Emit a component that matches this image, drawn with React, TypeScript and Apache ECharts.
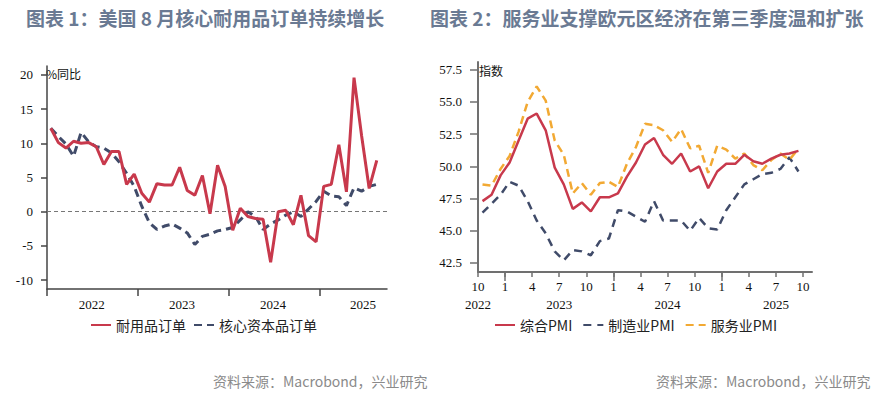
import React, { useEffect, useRef } from "react";
import * as echarts from "echarts";

// ---------- Chart 1: US durable goods orders (YoY %), Jan 2022 – Aug 2025 ----------
const durableOrders = [
  12.2, 10.1, 9.3, 10.3, 10.0, 10.1, 9.5, 6.9, 8.8, 8.8, 4.0, 5.5,
  2.7, 1.4, 4.1, 3.9, 3.9, 6.5, 3.1, 2.4, 5.3, -0.3, 6.8, 3.7,
  -2.7, 0.5, -0.7, -1.0, -1.1, -7.4, 0.0, 0.2, -1.9, 2.4, -3.5, -4.4,
  3.7, 4.0, 9.8, 2.9, 19.6, 11.1, 3.4, 7.5,
];
const coreCapitalOrders = [
  12.2, 11.0, 9.9, 8.1, 11.6, 10.2, 9.5, 9.3, 8.6, 7.3, 5.6, 3.7,
  0.8, -1.6, -2.6, -2.1, -1.8, -2.4, -3.1, -4.8, -3.6, -3.3, -2.8, -2.6,
  -2.3, -1.2, 0.0, -0.7, -2.6, -1.8, -1.2, -0.5, 0.0, -0.7, 0.4, 1.5,
  3.0, 2.3, 2.2, 0.9, 3.5, 3.0, 3.7, 4.0,
];
const chart1Legend = ["耐用品订单", "核心资本品订单"];
const chart1YTicks = [-10, -5, 0, 5, 10, 15, 20];
const chart1YearLabels = ["2022", "2023", "2024", "2025"];

// ---------- Chart 2: Eurozone PMI, Oct 2022 – Sep 2025 ----------
const compositePMI = [
  47.3, 47.8, 49.3, 50.3, 52.0, 53.7, 54.1, 52.8, 49.9, 48.6, 46.7, 47.2,
  46.5, 47.6, 47.6, 47.9, 49.2, 50.3, 51.7, 52.2, 50.9, 50.2, 51.0, 49.6,
  50.0, 48.3, 49.6, 50.2, 50.2, 50.9, 50.4, 50.2, 50.6, 50.9, 51.0, 51.2,
];
const manufacturingPMI = [
  46.4, 47.1, 47.8, 48.8, 48.5, 47.3, 45.8, 44.8, 43.4, 42.7, 43.5, 43.4,
  43.1, 44.2, 44.4, 46.6, 46.5, 46.1, 45.7, 47.3, 45.8, 45.8, 45.8, 45.0,
  46.0, 45.2, 45.1, 46.6, 47.6, 48.6, 49.0, 49.4, 49.5, 49.8, 50.7, 49.6,
];
const servicesPMI = [
  48.6, 48.5, 49.8, 50.8, 52.7, 55.0, 56.2, 55.1, 52.0, 50.9, 47.9, 48.7,
  47.8, 48.7, 48.8, 48.4, 50.2, 51.5, 53.3, 53.2, 52.8, 51.9, 52.9, 51.4,
  51.6, 49.5, 51.6, 51.3, 50.6, 51.0, 50.1, 49.7, 50.5, 51.0, 50.5, 51.4,
];
const chart2Legend = ["综合PMI", "制造业PMI", "服务业PMI"];
const chart2YTicks = [42.5, 45, 47.5, 50, 52.5, 55, 57.5];
const chart2MonthLabels = ["10", "1", "4", "7", "10", "1", "4", "7", "10", "1", "4", "7", "10"];
const chart2YearLabels = ["2022", "2023", "2024", "2025"];

const title1 = "图表 1：美国 8 月核心耐用品订单持续增长";
const title2 = "图表 2：服务业支撑欧元区经济在第三季度温和扩张";
const sourceText = "资料来源：Macrobond，兴业研究";

const RED = "#c8394c";
const NAVY = "#404b69";
const ORANGE = "#f2a933";
const SERIF = "'Liberation Serif', 'Times New Roman', serif";
const CJK = "'Noto Sans CJK SC', sans-serif";

export default function App() {
  const ref = useRef<HTMLDivElement>(null);

  useEffect(() => {
    if (!ref.current) return;
    const chart = echarts.init(ref.current, null, { renderer: "svg" });

    const labelStyle = { fontFamily: SERIF, fontSize: 13, color: "#111" };
    const axisLine1 = { show: true, onZero: false, lineStyle: { color: "#444", width: 1.5 } };
    const axisLine2 = { show: true, onZero: false, lineStyle: { color: "#707070", width: 2 } };

    const c1Year = [5.9, 17.8, 29.8, 41.7];
    const c2MonthPos = chart2MonthLabels.map((_, i) => i * 3);
    const c2YearPos = [0, 9, 21, 33];

    const legendBase = {
      itemWidth: 20,
      itemHeight: 14,
      itemStyle: { opacity: 0 },
      textStyle: { fontFamily: CJK, fontSize: 14, color: "#222" },
    };

    const option: any = {
      animation: false,
      grid: [
        { left: 47, top: 66, width: 340, height: 223 },
        { left: 478, top: 62, width: 334, height: 210 },
      ],
      xAxis: [
        {
          gridIndex: 0,
          type: "value",
          position: "bottom",
          min: 0,
          max: 44.85,
          axisLine: axisLine1,
          axisTick: { show: true, customValues: [0, 12, 24, 36], length: 7, lineStyle: { color: "#444", width: 1.5 } },
          axisLabel: {
            ...labelStyle,
            customValues: c1Year,
            margin: 9,
            formatter: (v: number) => chart1YearLabels[c1Year.findIndex((p) => Math.abs(p - v) < 0.01)] ?? "",
          },
          splitLine: { show: false },
        },
        {
          gridIndex: 1,
          type: "value",
          position: "bottom",
          offset: 0,
          min: 0,
          max: 37,
          axisLine: axisLine2,
          axisTick: { show: true, customValues: [3, 15, 27], length: 9, lineStyle: { color: "#707070", width: 1.5 } },
          axisLabel: {
            ...labelStyle,
            customValues: c2MonthPos,
            margin: 8,
            formatter: (v: number) => chart2MonthLabels[Math.round(v / 3)] ?? "",
          },
          splitLine: { show: false },
        },
        {
          gridIndex: 1,
          type: "value",
          position: "bottom",
          offset: 0,
          min: 0,
          max: 37,
          axisLine: { show: false },
          axisTick: { show: true, customValues: c2MonthPos, length: 5, lineStyle: { color: "#707070", width: 1.5 } },
          axisLabel: {
            ...labelStyle,
            customValues: c2YearPos,
            margin: 26,
            formatter: (v: number) => chart2YearLabels[c2YearPos.indexOf(Math.round(v))] ?? "",
          },
          splitLine: { show: false },
        },
      ],
      yAxis: [
        {
          gridIndex: 0,
          type: "value",
          min: -11.3,
          max: 21.3,
          axisLine: axisLine1,
          axisTick: { show: true, customValues: chart1YTicks, length: 6, lineStyle: { color: "#444", width: 1.5 } },
          axisLabel: { ...labelStyle, customValues: chart1YTicks, margin: 14, formatter: (v: number) => String(v) },
          splitLine: { show: false },
          name: "%同比",
          nameLocation: "end",
          nameGap: -7,
          nameTextStyle: { align: "left", verticalAlign: "middle", fontFamily: CJK, fontSize: 12, color: "#111", padding: [0, 0, 0, -1] },
        },
        {
          gridIndex: 1,
          type: "value",
          min: 41.8,
          max: 58.1,
          axisLine: axisLine2,
          axisTick: { show: true, customValues: chart2YTicks, length: 8, lineStyle: { color: "#707070", width: 1.5 } },
          axisLabel: { ...labelStyle, customValues: chart2YTicks, margin: 16, formatter: (v: number) => v.toFixed(1) },
          splitLine: { show: false },
          name: "指数",
          nameLocation: "end",
          nameGap: -8,
          nameTextStyle: { align: "left", verticalAlign: "middle", fontFamily: CJK, fontSize: 12, color: "#111", padding: [0, 0, 0, 1] },
        },
      ],
      legend: [
        { ...legendBase, data: chart1Legend, left: 85, top: 313, itemGap: 7 },
        { ...legendBase, data: chart2Legend, left: 489, top: 313, itemGap: 10 },
      ],
      series: [
        {
          name: chart1Legend[0],
          type: "line",
          xAxisIndex: 0,
          yAxisIndex: 0,
          symbol: "none",
          data: durableOrders.map((v, i) => [i + 0.5, v]),
          lineStyle: { color: RED, width: 3 },
          itemStyle: { color: RED },
          z: 3,
          markLine: {
            silent: true,
            symbol: ["none", "none"],
            label: { show: false },
            lineStyle: { color: "#777", type: [4, 3], width: 1 },
            data: [{ yAxis: 0 }],
            z: 1,
          },
        },
        {
          name: chart1Legend[1],
          type: "line",
          xAxisIndex: 0,
          yAxisIndex: 0,
          symbol: "none",
          data: coreCapitalOrders.map((v, i) => [i + 0.5, v]),
          lineStyle: { color: NAVY, width: 3, type: [8, 5] },
          itemStyle: { color: NAVY },
          z: 2,
        },
        {
          name: chart2Legend[0],
          type: "line",
          xAxisIndex: 1,
          yAxisIndex: 1,
          symbol: "none",
          data: compositePMI.map((v, i) => [i + 0.5, v]),
          lineStyle: { color: RED, width: 2.5 },
          itemStyle: { color: RED },
          z: 4,
        },
        {
          name: chart2Legend[1],
          type: "line",
          xAxisIndex: 1,
          yAxisIndex: 1,
          symbol: "none",
          data: manufacturingPMI.map((v, i) => [i + 0.5, v]),
          lineStyle: { color: NAVY, width: 2.5, type: [8, 6] },
          itemStyle: { color: NAVY },
          z: 2,
        },
        {
          name: chart2Legend[2],
          type: "line",
          xAxisIndex: 1,
          yAxisIndex: 1,
          symbol: "none",
          data: servicesPMI.map((v, i) => [i + 0.5, v]),
          lineStyle: { color: ORANGE, width: 2.5, type: [8, 5] },
          itemStyle: { color: ORANGE },
          z: 3,
        },
      ],
      graphic: [
        { type: "text", left: 26, top: 8, style: { text: title1, font: `bold 19px ${CJK}`, fill: "#6a7a93" } },
        { type: "text", left: 430, top: 8, style: { text: title2, font: `bold 19px ${CJK}`, fill: "#6a7a93" } },
        { type: "text", left: 213, top: 374, style: { text: sourceText, font: `14px ${CJK}`, fill: "#8a8a8a" } },
        { type: "text", left: 656, top: 374, style: { text: sourceText, font: `14px ${CJK}`, fill: "#8a8a8a" } },
      ],
    };

    chart.setOption(option);
    return () => chart.dispose();
  }, []);

  return (
    <div
      ref={ref}
      style={{ position: "absolute", left: 0, top: 0, width: 893, height: 396, background: "#fff" }}
    />
  );
}
